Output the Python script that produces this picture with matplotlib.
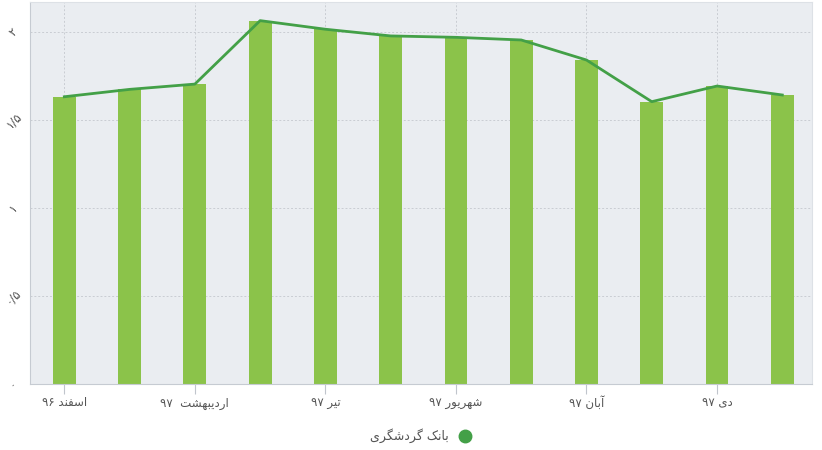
import matplotlib
matplotlib.use('Agg')
import matplotlib.pyplot as plt
from matplotlib.lines import Line2D

# data
months = ['اسفند ۹۶', 'فروردین ۹۷', 'اردیبهشت ۹۷', 'خرداد ۹۷', 'تیر ۹۷', 'مرداد ۹۷',
          'شهریور ۹۷', 'مهر ۹۷', 'آبان ۹۷', 'آذر ۹۷', 'دی ۹۷', 'بهمن ۹۷']
values = [1.634, 1.676, 1.706, 2.067, 2.018, 1.980, 1.972, 1.957, 1.843, 1.606, 1.695, 1.644]
tick_idx = [0, 2, 4, 6, 8, 10]
tick_labels = ['اسفند ۹۶', 'اردیبهشت  ۹۷', 'تیر ۹۷', 'شهریور ۹۷', 'آبان ۹۷', 'دی ۹۷']
y_ticks = [0, 0.5, 1, 1.5, 2]
y_tick_labels = ['۰', '۰/۵', '۱', '۱/۵', '۲']
series_name = 'بانک گردشگری'

# matplotlib does no arabic shaping, so pick presentation forms by hand
# (isolated, final, initial, medial)
FORMS = {
    'ا': ('\uFE8D', '\uFE8E', None, None),
    'آ': ('\uFE81', '\uFE82', None, None),
    'د': ('\uFEA9', '\uFEAA', None, None),
    'ر': ('\uFEAD', '\uFEAE', None, None),
    'و': ('\uFEED', '\uFEEE', None, None),
    'ب': ('\uFE8F', '\uFE90', '\uFE91', '\uFE92'),
    'ت': ('\uFE95', '\uFE96', '\uFE97', '\uFE98'),
    'س': ('\uFEB1', '\uFEB2', '\uFEB3', '\uFEB4'),
    'ش': ('\uFEB5', '\uFEB6', '\uFEB7', '\uFEB8'),
    'ف': ('\uFED1', '\uFED2', '\uFED3', '\uFED4'),
    'ن': ('\uFEE5', '\uFEE6', '\uFEE7', '\uFEE8'),
    'ه': ('\uFEE9', '\uFEEA', '\uFEEB', '\uFEEC'),
    'ی': ('\uFBFC', '\uFBFD', '\uFBFE', '\uFBFF'),
    'ک': ('\uFB8E', '\uFB8F', '\uFB90', '\uFB91'),
    'گ': ('\uFB92', '\uFB93', '\uFB94', '\uFB95'),
}


def shape_word(word):
    out = []
    for i, ch in enumerate(word):
        f = FORMS.get(ch)
        if f is None:
            out.append(ch)
            continue
        prev = word[i - 1] if i > 0 else None
        nxt = word[i + 1] if i < len(word) - 1 else None
        jp = prev in FORMS and FORMS[prev][2] is not None
        jn = nxt in FORMS and f[2] is not None
        if jp and jn:
            out.append(f[3])
        elif jp:
            out.append(f[1])
        elif jn:
            out.append(f[2])
        else:
            out.append(f[0])
    return ''.join(reversed(out))


def rtl(text):
    # reverse word order, shape the arabic words, keep digit runs as they are
    parts = text.split(' ')
    res = []
    for p in reversed(parts):
        if p and all(c in '۰۱۲۳۴۵۶۷۸۹' for c in p):
            res.append(p)
        else:
            res.append(shape_word(p))
    return ' '.join(res)


bar_color = '#8bc34a'
line_color = '#43a047'
text_color = '#555555'

plt.rcParams['font.family'] = ['DejaVu Sans']

fig = plt.figure(figsize=(8.22, 4.5), dpi=100)
ax = fig.add_axes([30 / 822, 66 / 450, 782 / 822, 382 / 450])
ax.set_facecolor('#eaedf1')

x = list(range(len(values)))
ax.bar(x, values, width=0.35, color=bar_color, zorder=2)
ax.plot(x, values, color=line_color, linewidth=2, zorder=3)

ax.set_xlim(-0.526, 11.455)
ax.set_ylim(0, 2.173)

ax.set_xticks(tick_idx)
ax.set_xticklabels([rtl(t) for t in tick_labels], fontsize=8.5, color=text_color)
ax.set_yticks(y_ticks)
ax.set_yticklabels(y_tick_labels, fontsize=8.5, color=text_color,
                   rotation=45, ha='center', va='center')
ax.tick_params(axis='y', length=0, pad=12)
ax.tick_params(axis='x', length=7, width=0.8, color='#c0c5cc', pad=2)

ax.grid(True, color='#c9cdd3', linestyle=(0, (2, 2)), linewidth=0.7, zorder=0)
for side in ['top', 'right']:
    ax.spines[side].set_color('#dde1e6')
for side in ['left', 'bottom']:
    ax.spines[side].set_color('#c6cbd2')

handle = Line2D([], [], marker='o', color=line_color, linestyle='None', markersize=9)
fig.legend([handle], [rtl(series_name)], loc='center', bbox_to_anchor=(424 / 822, 1 - 436 / 450),
           frameon=False, markerfirst=False, handletextpad=0.3, prop={'size': 9},
           labelcolor=text_color)

fig.savefig('out.png', dpi=100, facecolor='white')
